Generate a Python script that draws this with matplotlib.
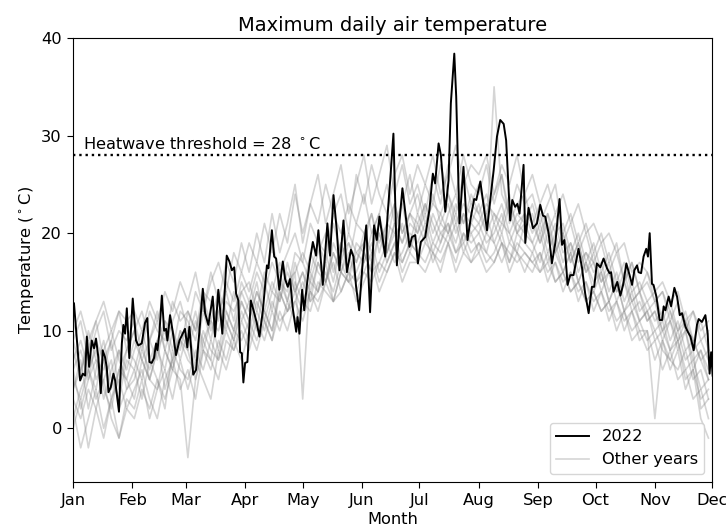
import matplotlib
matplotlib.use("Agg")
import matplotlib.pyplot as plt
import numpy as np

# ---- data ----
month_labels = ["Jan", "Feb", "Mar", "Apr", "May", "Jun", "Jul", "Aug", "Sep", "Oct", "Nov", "Dec"]
month_starts = [0, 31, 59, 90, 120, 151, 181, 212, 243, 273, 304, 334]
threshold = 28

days_2022 = [0.5, 3.7, 5.1, 6.3, 7.2, 8.4, 9.8, 11, 12, 13.2, 14.5, 15.5, 16.7, 17.6, 18.5, 19.7, 21.1, 22, 22.8, 24,
             25.5, 26.3, 27.2, 28.1, 29.4, 31.2, 32.9, 34.1, 35.9, 37.6, 38.8, 39.9, 41.1, 42.3, 43.4, 44.1, 45.1, 46.4,
             47.6, 48.6, 49.3, 50.7, 52.1, 53.8, 55.6, 57.3, 58.5, 59.7, 60.8, 62.8, 64.3, 66.4, 67.8, 69, 70.7, 73,
             74.2, 75.9, 78, 80.3, 81.7, 83, 84.2, 85.2, 86.4, 87.3, 88.2, 89, 89.9, 91.1, 92.9, 94.3, 96, 97.4, 99.2,
             101.3, 102.1, 103.9, 105.1, 106.1, 107.8, 109.6, 110.8, 112.2, 113.4, 114.8, 116.6, 117.3, 118.3, 119.7,
             120.8, 122.2, 123.5, 125.3, 127, 128.2, 130.5, 132.9, 134.3, 136.1, 137.8, 139.2, 141.3, 143.1, 145.2,
             146.5, 147.9, 149.5, 151.4, 153.2, 155.2, 157.3, 158.7, 160.1, 161.9, 163.1, 164.3, 165.7, 167.4, 169.2,
             170.6, 172.1, 174.1, 175.8, 177.1, 178.8, 180.2, 181.7, 184, 186.2, 188, 189.2, 191, 192.2, 194.5, 196.2,
             197.4, 199.2, 200.2, 201.9, 204, 206.1, 207.9, 209.6, 210.7, 212.8, 214.5, 216.3, 218, 219.8, 221.5,
             223.2, 225, 226.3, 227.5, 228.4, 229.5, 231, 232.2, 233.3, 235.4, 236.3, 238, 240.3, 242.4, 244.1, 245.5,
             246.7, 248.5, 250.2, 252, 254.2, 255.5, 256.7, 258.4, 259.8, 261.5, 264.1, 265.9, 267.6, 269.4, 271.1,
             272.3, 273.7, 275.5, 277.2, 279, 280.3, 281.1, 282.4, 284.4, 286, 287.4, 289.1, 290.8, 292.1, 293.3,
             294.7, 295.5, 296.8, 298.1, 299.5, 300.4, 301.3, 302.5, 303.3, 304.8, 306.5, 307.8, 308.6, 309.5, 311.2,
             312.5, 314.2, 315.6, 317, 318.2, 320, 321.2, 322.6, 324.3, 326, 326.9, 328.6, 330.4, 331.6, 332.6, 333.4,
             334.2]
temp_2022 = [12.8, 4.9, 5.6, 5.4, 9.4, 6.3, 9.0, 8.2, 9.2, 7.3, 3.6, 8.0, 7.3, 6.3, 3.7, 4.2, 5.6, 4.9, 3.6, 1.7,
             8.7, 10.6, 9.7, 12.3, 7.2, 13.3, 9.0, 8.5, 8.7, 10.8, 11.3, 6.8, 6.7, 7.2, 8.7, 8.0, 9.7, 13.6,
             10.0, 10.2, 9.0, 11.6, 9.9, 7.5, 9.0, 9.7, 10.2, 8.3, 10.4, 5.5, 6.0, 10.8, 14.3, 11.8, 10.6, 13.5,
             9.4, 14.2, 9.7, 17.7, 17.1, 16.2, 16.5, 13.8, 13.1, 7.8, 7.7, 4.7, 6.7, 6.8, 13.1, 12.1, 10.8, 9.4, 12.1,
             16.7, 16.4, 20.3, 17.6, 17.4, 14.2, 17.1, 15.3, 14.5, 15.3, 12.3, 9.9, 11.4, 9.7, 14.2,
             12.1, 14.7, 16.9, 19.1, 17.7, 20.3, 14.7, 21.0, 17.7, 23.9, 20.3, 16.2, 21.3, 16.0, 18.3,
             17.6, 14.5, 12.1, 17.2, 20.8, 11.9, 20.8, 19.3, 21.7, 19.3, 17.6, 21.7, 25.4, 30.2, 16.7,
             21.3, 24.6, 21.3, 18.6, 19.6, 19.8, 16.9, 19.1, 19.6, 22.4, 26.1, 25.1, 29.2, 28.0, 22.2, 25.4,
             33.3, 38.4, 34.0, 21.0, 26.8, 19.3, 21.7, 23.5, 23.4, 25.3, 22.9, 20.3, 23.4, 26.5, 29.9,
             31.6, 31.2, 29.5, 24.8, 21.3, 23.4, 22.7, 23.0, 22.0, 27.0, 19.0, 22.6, 20.5, 21.0, 22.9, 21.8,
             21.7, 20.0, 16.9, 19.0, 23.5, 18.8, 19.3, 14.7, 15.7, 15.7, 18.4, 16.5, 13.8, 11.8, 14.5,
             14.5, 16.9, 16.5, 17.4, 16.4, 15.9, 16.0, 14.0, 15.0, 13.6, 14.7, 16.9, 15.7, 14.7, 16.2,
             16.7, 16.0, 15.9, 17.6, 18.4, 17.6, 20.0, 14.8, 14.7, 13.5, 11.1, 11.1, 12.5, 12.1, 13.5,
             12.5, 14.4, 13.5, 11.6, 11.8, 10.4, 9.9, 9.4, 8.0, 10.6, 11.2, 10.9, 11.6, 9.7, 5.6, 7.8,
             5.4]

# other years: values every 4 days (day 0, 4, ..., 332)
other_days = list(range(0, 333, 4))
year_a = [9, 11, 7, 10, 12, 8, 10, 9, 11, 8, 12, 10, 9, 13, 11, 12, 10, 14, 13, 11, 15, 13, 16,
          14, 17, 15, 19, 16, 18, 20, 17, 21, 19, 18, 22, 20, 23, 21, 24, 20, 22, 25, 21, 23, 26,
          22, 25, 23, 27, 24, 22, 26, 23, 25, 22, 24, 26, 21, 23, 24, 21, 23, 20, 22, 19, 21, 18, 20,
          17, 19, 16, 18, 15, 17, 14, 15, 13, 14, 11, 13, 10, 12, 9, 10]
year_b = [3, 1, 4, 2, -1, 3, 5, 2, 4, 6, 3, 1, 5, 7, 4, 6, 3, 8, 7, 5, 9, 8, 10,
          8, 11, 9, 12, 10, 13, 11, 13, 12, 15, 14, 13, 16, 15, 14, 16, 15, 17, 16, 18, 17, 19,
          18, 17, 19, 18, 20, 18, 19, 17, 19, 18, 17, 19, 18, 17, 18, 17, 16, 18, 15, 16, 14, 15, 13,
          14, 12, 13, 11, 12, 10, 11, 9, 10, 8, 7, 9, 5, 6, 3, 4]
year_c = [6, 8, 5, 9, 7, 4, 8, 6, 9, 7, 5, 8, 10, 7, 9, 8, 11, 9, 7, 12, 10, 14, 11,
          13, 10, 15, 12, 16, 13, 17, 14, 18, 16, 15, 19, 17, 20, 18, 19, 22, 18, 21, 20, 23, 19,
          22, 20, 24, 21, 23, 20, 22, 21, 23, 20, 22, 21, 24, 20, 21, 22, 19, 21, 18, 20, 17, 19, 16,
          18, 15, 17, 14, 16, 13, 14, 12, 13, 10, 12, 9, 11, 8, 9, 7]
year_d = [4, 7, 2, 6, 9, 5, 3, 7, 6, 9, 5, 8, 6, 10, 7, 10, 7, 12, 9, 13, 11, 9, 13,
          11, 14, 12, 10, 15, 13, 16, 3, 16, 14, 18, 15, 19, 16, 18, 17, 20, 22, 18, 21, 19, 22,
          20, 23, 21, 19, 22, 24, 21, 23, 22, 20, 35, 24, 22, 20, 22, 21, 19, 22, 18, 20, 17, 19, 16,
          17, 14, 16, 13, 15, 12, 13, 11, 12, 9, 11, 8, 10, 6, 8, 5]
year_e = [8, 5, 10, 7, 6, 9, 4, 8, 7, 5, 9, 11, 8, 6, 10, 9, 12, 8, 11, 10, 13, 12, 14,
          12, 15, 11, 14, 13, 17, 14, 16, 13, 17, 15, 18, 16, 15, 19, 18, 16, 20, 17, 19, 21, 18,
          21, 19, 22, 20, 21, 19, 22, 20, 21, 19, 20, 22, 19, 21, 20, 19, 21, 18, 20, 17, 19, 16, 18,
          16, 17, 14, 16, 13, 15, 12, 13, 11, 12, 9, 11, 8, 9, 7, 5]
year_f = [2, -2, 1, 4, 0, 3, -1, 2, 1, 4, 2, 5, 3, 6, 5, -3, 5, 8, 6, 9, 7, 10, 9,
          11, 9, 12, 10, 14, 12, 13, 15, 13, 14, 16, 14, 17, 15, 16, 18, 16, 17, 19, 17, 18, 20,
          19, 21, 18, 20, 19, 21, 18, 20, 18, 20, 19, 17, 19, 18, 16, 18, 16, 17, 15, 16, 14, 15, 13,
          14, 12, 13, 10, 12, 9, 10, 8, 9, 6, 8, 5, 6, 3, 4, 1]
year_g = [10, 12, 9, 11, 13, 10, 12, 11, 12, 10, 13, 11, 14, 12, 15, 13, 16, 12, 15, 17, 14, 18, 16,
          19, 17, 21, 18, 22, 19, 24, 20, 23, 21, 25, 22, 24, 20, 26, 23, 27, 24, 22, 26, 28, 24,
          27, 25, 28, 24, 26, 29, 25, 27, 26, 28, 24, 27, 25, 28, 24, 26, 23, 25, 22, 24, 21, 23, 20,
          21, 19, 20, 18, 19, 16, 17, 16, 14, 15, 13, 14, 11, 12, 10, 11]
year_h = [5, 3, 6, 8, 4, 2, 6, 5, 3, 7, 5, 4, 8, 6, 9, 7, 6, 10, 8, 7, 11, 9, 12,
          10, 13, 11, 9, 14, 12, 15, 13, 15, 14, 17, 13, 16, 18, 15, 17, 19, 16, 18, 20, 17, 19,
          18, 20, 17, 19, 21, 18, 20, 19, 20, 18, 21, 19, 17, 20, 19, 18, 20, 17, 19, 16, 18, 15, 17,
          15, 16, 13, 15, 12, 14, 11, 12, 10, 11, 8, 10, 7, 8, 2, 3]
year_i = [7, 9, 6, 4, 8, 10, 7, 5, 8, 10, 7, 9, 11, 8, 12, 11, 9, 13, 10, 12, 14, 11, 15,
          13, 16, 14, 17, 15, 14, 18, 17, 15, 18, 20, 16, 19, 17, 21, 20, 18, 21, 19, 23, 20, 22,
          21, 23, 20, 22, 24, 21, 23, 22, 21, 23, 22, 20, 23, 21, 22, 20, 22, 19, 21, 18, 19, 17, 18,
          17, 15, 16, 14, 15, 13, 14, 11, 12, 10, 11, 9, 10, 7, 8, 6]
year_j = [1, 4, 6, 3, 5, 7, 2, 4, 6, 3, 7, 5, 2, 8, 6, 5, 8, 6, 9, 7, 10, 8, 11,
          9, 12, 10, 13, 11, 12, 14, 12, 14, 13, 15, 17, 14, 16, 15, 16, 18, 15, 17, 19, 16, 18,
          17, 19, 18, 16, 19, 17, 20, 18, 19, 17, 18, 20, 17, 19, 18, 17, 18, 16, 17, 15, 16, 14, 15,
          13, 14, 12, 13, 11, 12, 10, 10, 1, 9, 7, 6, 8, 5, 6, 3]
year_k = [4, 6, 9, 5, 7, 3, 6, 8, 10, 7, 9, 12, 8, 11, 13, 10, 14, 12, 16, 13, 17, 15, 19,
          16, 20, 17, 22, 18, 21, 25, 19, 23, 26, 21, 24, 27, 22, 25, 28, 23, 26, 29, 24, 27, 23,
          25, 22, 26, 23, 27, 24, 28, 25, 24, 27, 23, 26, 22, 25, 23, 24, 21, 23, 25, 20, 22, 19, 21,
          18, 20, 17, 19, 15, 17, 14, 16, 13, 14, 12, 10, 12, 9, 11, 8]
year_l = [0, 3, -2, 2, 5, 1, -1, 3, 2, 5, 1, 4, 6, 3, 7, 4, 7, 5, 3, 8, 6, 9, 7,
          10, 8, 11, 9, 12, 10, 13, 11, 14, 12, 15, 13, 14, 16, 13, 15, 17, 14, 16, 18, 15, 17,
          17, 16, 18, 17, 19, 16, 18, 17, 18, 16, 17, 19, 16, 18, 17, 16, 18, 15, 17, 14, 16, 13, 15,
          12, 14, 11, 13, 10, 12, 9, 10, 7, 9, 6, 8, 4, 6, 1, -1]
year_m = [9, 6, 8, 11, 7, 9, 12, 8, 10, 12, 9, 7, 11, 10, 8, 12, 10, 13, 11, 14, 12, 10, 14,
          15, 12, 16, 14, 17, 15, 16, 18, 16, 19, 17, 21, 18, 19, 17, 20, 22, 19, 21, 23, 20, 22,
          24, 21, 23, 22, 20, 23, 21, 24, 22, 24, 21, 23, 20, 22, 21, 23, 20, 22, 20, 21, 18, 20, 17,
          19, 16, 18, 15, 17, 14, 15, 13, 14, 11, 13, 10, 11, 9, 7, 8]
year_n = [6, 2, 5, 7, 3, 6, 8, 4, 5, 8, 6, 9, 4, 7, 10, 8, 5, 9, 11, 8, 12, 10, 13,
          11, 14, 12, 15, 13, 16, 14, 16, 14, 17, 15, 18, 16, 19, 17, 19, 17, 20, 18, 21, 19, 21,
          20, 22, 19, 21, 20, 22, 19, 21, 20, 22, 19, 21, 20, 18, 21, 19, 17, 20, 18, 16, 18, 15, 17,
          14, 16, 13, 15, 12, 13, 11, 12, 9, 10, 8, 9, 6, 7, 4, 5]
other_years = [year_a, year_b, year_c, year_d, year_e, year_f, year_g,
               year_h, year_i, year_j, year_k, year_l, year_m, year_n]

# ---- plot ----
fs = 11.7
fig = plt.figure(figsize=(7.26, 5.31), dpi=100)
ax = fig.add_axes([0.1006, 0.0923, 0.8805, 0.8361])

for k, vals in enumerate(other_years):
    ax.plot(other_days, vals, color="grey", alpha=0.33, lw=1.2,
            label="Other years" if k == 0 else None)
ax.plot(days_2022, temp_2022, color="black", lw=1.4, label="2022")

ax.axhline(threshold, color="black", ls=":", lw=1.7)
ax.text(5, threshold + 0.3, r"Heatwave threshold = 28 $^\circ$C", fontsize=fs, va="bottom", ha="left")

ax.set_xlim(0, 334)
ax.set_ylim(-5.5, 40)
ax.set_xticks(month_starts)
ax.set_xticklabels(month_labels)
ax.set_yticks([0, 10, 20, 30, 40])
ax.tick_params(labelsize=fs, length=4.5)
ax.set_xlabel("Month", fontsize=fs, labelpad=3)
ax.set_ylabel(r"Temperature ($^\circ$C)", fontsize=fs)
ax.set_title("Maximum daily air temperature", fontsize=14, pad=5)

handles, labels = ax.get_legend_handles_labels()
order = [labels.index("2022"), labels.index("Other years")]
ax.legend([handles[i] for i in order], [labels[i] for i in order], loc="lower right", fontsize=fs)

fig.savefig("out.png", dpi=100)
